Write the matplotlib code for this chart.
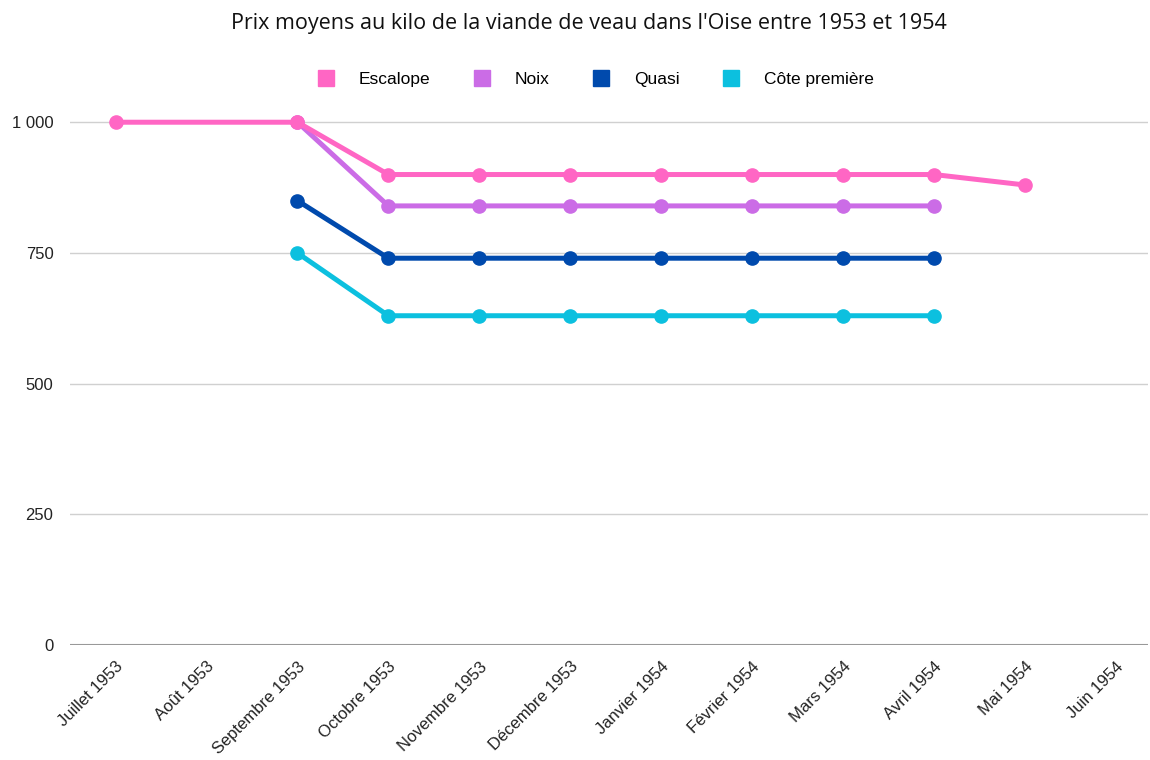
import numpy as np
import matplotlib.pyplot as plt
from matplotlib.lines import Line2D

months = ['Juillet 1953', 'Août 1953', 'Septembre 1953', 'Octobre 1953',
          'Novembre 1953', 'Décembre 1953', 'Janvier 1954', 'Février 1954',
          'Mars 1954', 'Avril 1954', 'Mai 1954', 'Juin 1954']
nan = np.nan
escalope = [1000, nan, 1000, 900, 900, 900, 900, 900, 900, 900, 880, nan]
noix = [nan, nan, 1000, 840, 840, 840, 840, 840, 840, 840, nan, nan]
quasi = [nan, nan, 850, 740, 740, 740, 740, 740, 740, 740, nan, nan]
cote = [nan, nan, 750, 630, 630, 630, 630, 630, 630, 630, nan, nan]

series = [('Escalope', escalope, '#FF66C4'),
          ('Noix', noix, '#CB6CE6'),
          ('Quasi', quasi, '#004AAD'),
          ('Côte première', cote, '#0CC0DF')]

plt.rcParams['font.family'] = ['Liberation Sans', 'DejaVu Sans']

fig = plt.figure(figsize=(11.5, 7.6), dpi=100)
ax = fig.add_axes([0.061, 0.151, 0.937, 0.757])

x = np.arange(len(months))
handles = []
for name, vals, col in reversed(series):
    v = np.array(vals, dtype=float)
    m = ~np.isnan(v)
    ax.plot(x[m], v[m], color=col, lw=3.6, marker='o', markersize=9.5,
            solid_capstyle='round', zorder=3)
for name, vals, col in series:
    handles.append(Line2D([], [], ls='none', marker='s', markersize=11,
                          color=col, label=name))

ax.set_xlim(-0.5, 11.35)
ax.set_ylim(0, 1100)
ax.set_yticks([0, 250, 500, 750, 1000])
ax.set_yticklabels(['0', '250', '500', '750', '1 000'])
ax.set_xticks(x)
ax.set_xticklabels(months, rotation=45, ha='right', rotation_mode='anchor')
ax.tick_params(axis='both', length=0, labelsize=12, colors='#222222')
ax.tick_params(axis='y', pad=12)
ax.tick_params(axis='x', pad=10)
ax.grid(axis='y', color='#d0d0d0', lw=1)
ax.axhline(0, color='#999999', lw=1.5, zorder=2)
for s in ax.spines.values():
    s.set_visible(False)

fig.text(0.512, 0.969, "Prix moyens au kilo de la viande de veau dans l'Oise entre 1953 et 1954",
         ha='center', va='center', fontsize=15.5, family=['Open Sans', 'DejaVu Sans'],
         weight='medium', color='#111111')
fig.legend(handles=handles, loc='center', bbox_to_anchor=(0.514, 0.896), ncol=4,
           frameon=False, fontsize=12.5, columnspacing=1.95, handletextpad=0.9)

fig.savefig('out.png', dpi=100)
